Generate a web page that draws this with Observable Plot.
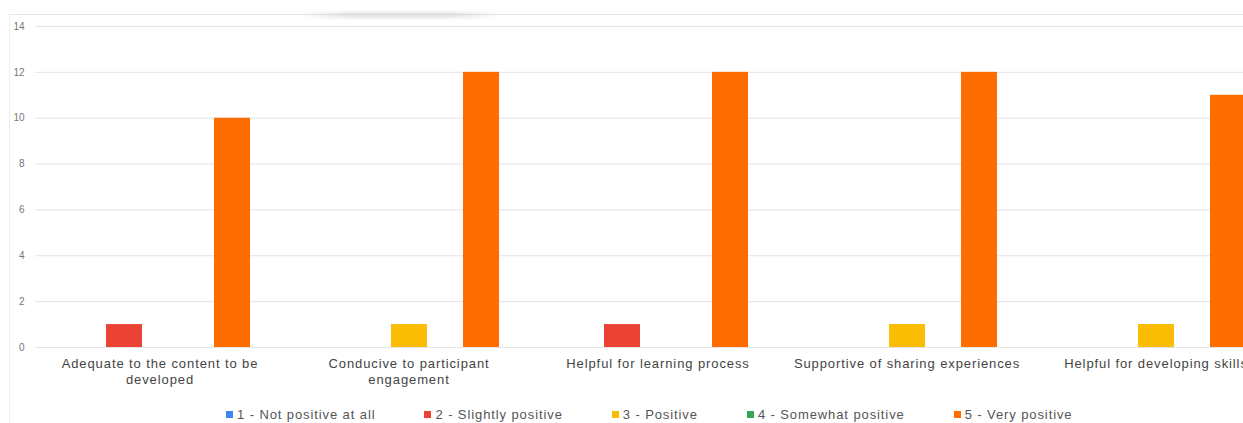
<!DOCTYPE html>
<html>
<head>
<meta charset="utf-8">
<script src="https://cdn.jsdelivr.net/npm/d3@7"></script>
<script src="https://cdn.jsdelivr.net/npm/@observablehq/plot@0.6"></script>
<style>
html, body { margin: 0; padding: 0; background: #fff; overflow: hidden; width: 1243px; height: 423px; }
body { position: relative; font-family: "Liberation Sans", Arial, sans-serif; }
#frame-top { position: absolute; left: 10px; right: 0; top: 14px; height: 1px; background: #e6e6e6; }
#frame-left { position: absolute; left: 9px; top: 14px; bottom: 0; width: 1px; background: #efefef; }
#smudge { position: absolute; left: 300px; top: 12px; width: 200px; height: 6px;
  background: linear-gradient(90deg, rgba(205,205,205,0), rgba(205,205,205,0.55) 25%, rgba(205,205,205,0.55) 75%, rgba(205,205,205,0));
  filter: blur(1.5px); }
#chart { position: absolute; left: 0; top: 0; width: 1280px; }
#chart svg { max-width: none !important; }
#chart g[aria-label="fx-axis tick label"] text { letter-spacing: 0.9px; }
#legend { position: absolute; left: 226px; top: 405px; height: 18px; display: flex; align-items: center; gap: 49px;
  font-size: 13px; letter-spacing: 0.9px; color: #555; white-space: nowrap; }
#legend .item { display: flex; align-items: center; }
#legend .sw { width: 7px; height: 7px; margin-right: 4px; }
</style>
</head>
<body>
<div id="frame-top"></div>
<div id="frame-left"></div>
<div id="smudge"></div>
<div id="chart"></div>
<div id="legend"></div>
<script>
// ---- data ----
const categories = [
  "Adequate to the content to be developed",
  "Conducive to participant engagement",
  "Helpful for learning process",
  "Supportive of sharing experiences",
  "Helpful for developing skills"
];
const categoryLabels = [
  "Adequate to the content to be\ndeveloped",
  "Conducive to participant\nengagement",
  "Helpful for learning process",
  "Supportive of sharing experiences",
  "Helpful for developing skills"
];
const seriesNames = [
  "1 - Not positive at all",
  "2 - Slightly positive",
  "3 - Positive",
  "4 - Somewhat positive",
  "5 - Very positive"
];
const seriesColors = ["#4285f4", "#ea4335", "#fbbc04", "#34a853", "#ff6d01"];
const notPositiveAtAll = [0, 0, 0, 0, 0];
const slightlyPositive = [1, 0, 1, 0, 0];
const positive = [0, 1, 0, 1, 1];
const somewhatPositive = [0, 0, 0, 0, 0];
const veryPositive = [10, 12, 12, 12, 11];
const yTicks = [0, 2, 4, 6, 8, 10, 12, 14];

// ---- table ----
const seriesValues = [notPositiveAtAll, slightlyPositive, positive, somewhatPositive, veryPositive];
const rows = [];
categories.forEach((c, i) => {
  seriesNames.forEach((s, j) => {
    rows.push({category: c, series: s, value: seriesValues[j][i]});
  });
});
const labelMap = new Map(categories.map((c, i) => [c, categoryLabels[i]]));

const chart = Plot.plot({
  width: 1280,
  height: 395,
  marginLeft: 35,
  marginRight: 0,
  marginTop: 26,
  marginBottom: 48,
  style: {fontFamily: "Liberation Sans, Arial, sans-serif", background: "transparent", overflow: "visible", maxWidth: "none"},
  fx: {domain: categories, padding: 0, label: null, axis: null},
  x: {domain: seriesNames, paddingInner: 0, paddingOuter: 0.958, axis: null},
  y: {domain: [0, 14], label: null, axis: null},
  color: {domain: seriesNames, range: seriesColors},
  marks: [
    Plot.gridY(yTicks, {stroke: "#e4e4e4", strokeOpacity: 1}),
    Plot.axisY(yTicks, {tickSize: 0, tickPadding: 11, fontSize: 10, fill: "#777", label: null}),
    Plot.axisFx({anchor: "bottom", tickFormat: d => labelMap.get(d), tickSize: 0, tickPadding: 8, fontSize: 13, fill: "#444", lineHeight: 1.3, label: null}),
    Plot.barY(rows.filter(d => d.value > 0), {fx: "category", x: "series", y: "value", fill: "series"})
  ]
});
document.getElementById("chart").appendChild(chart);

const legend = document.getElementById("legend");
seriesNames.forEach((s, i) => {
  const item = document.createElement("div");
  item.className = "item";
  const sw = document.createElement("span");
  sw.className = "sw";
  sw.style.background = seriesColors[i];
  const t = document.createElement("span");
  t.textContent = s;
  item.appendChild(sw);
  item.appendChild(t);
  legend.appendChild(item);
});
</script>
</body>
</html>
